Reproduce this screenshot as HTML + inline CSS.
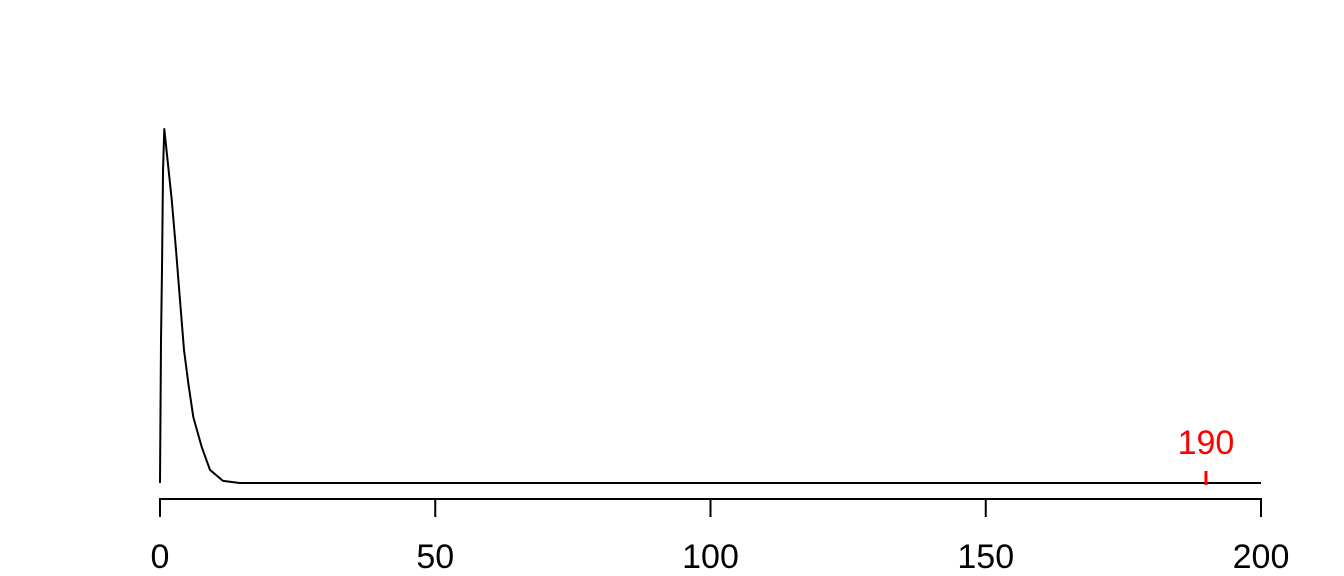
<!DOCTYPE html>
<html><head><meta charset="utf-8"><style>
body{margin:0;background:#fff}
svg{display:block}
text{font-family:"Liberation Sans",sans-serif}
</style></head><body>
<svg id="chart" width="1344" height="576"></svg>
<script>
const xValues=[0,0.18,0.36,0.55,0.78,2.13,2.91,3.63,4.36,5.14,6.05,7.57,9.08,11.44,14.5,20,50,100,150,200];
const yValues=[0,0.40,0.60,0.884,1,0.8,0.658,0.517,0.376,0.282,0.186,0.102,0.037,0.006,0,0,0,0,0,0];
const tickValues=[0,50,100,150,200];
const tickLabels=["0","50","100","150","200"];
const markerValue=190;
const markerLabel="190";
const NS="http://www.w3.org/2000/svg";
const svg=document.getElementById('chart');
const sx=v=>160+v*(1261-160)/200;
const sy=v=>483-v*(483-129);
function mk(t,a){const e=document.createElementNS(NS,t);for(const k in a)e.setAttribute(k,a[k]);svg.appendChild(e);return e;}
const d=xValues.map((x,i)=>(i?'L':'M')+sx(x).toFixed(2)+','+sy(yValues[i]).toFixed(2)).join(' ');
const line=mk('path',{d:d,fill:'none',stroke:'#000','stroke-width':2,'stroke-linejoin':'round'});


const axis=mk('path',{d:`M${sx(0)},499 H${sx(200)}`,stroke:'#000','stroke-width':2});


tickValues.forEach((v,i)=>{
 const t=mk('line',{x1:sx(v),x2:sx(v),y1:498,y2:517,stroke:'#000','stroke-width':2});
 
 
 const l=mk('text',{x:sx(v),y:568,'text-anchor':'middle','font-size':34,fill:'#000'});
 l.textContent=tickLabels[i];
 
 
});
const m=mk('line',{x1:sx(markerValue),x2:sx(markerValue),y1:471,y2:485,stroke:'#f00','stroke-width':3});


const ml=mk('text',{x:sx(markerValue),y:454,'text-anchor':'middle','font-size':34,fill:'#f00'});
ml.textContent=markerLabel;


</script>
</body></html>
